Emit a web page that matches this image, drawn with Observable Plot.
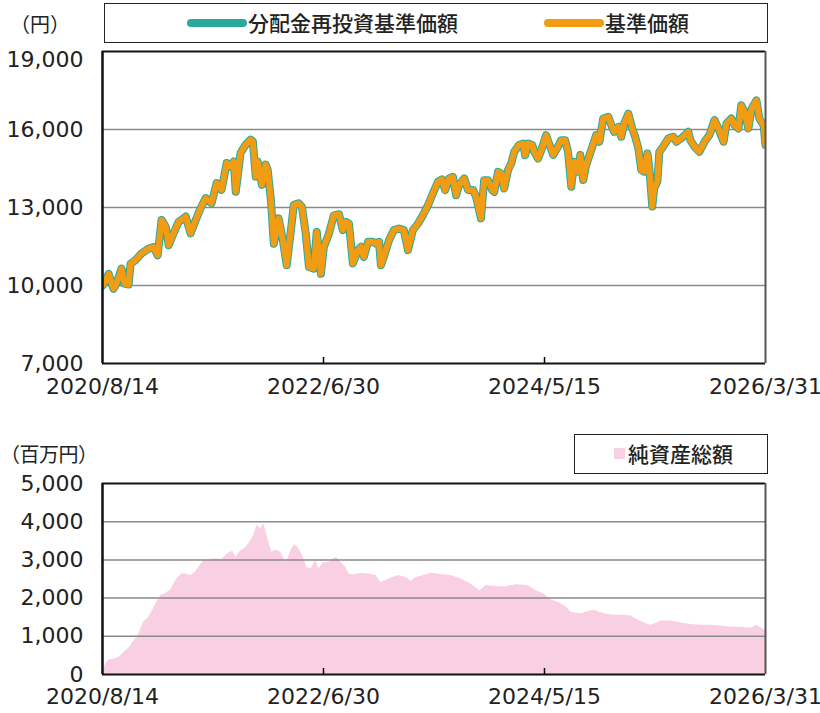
<!DOCTYPE html>
<html><head><meta charset="utf-8">
<script src="https://cdn.jsdelivr.net/npm/d3@7"></script>
<script src="https://cdn.jsdelivr.net/npm/@observablehq/plot@0.6"></script>
<style>
body{margin:0;background:#fff;}
#wrap{position:relative;width:820px;height:713px;overflow:hidden;font-family:"Noto Sans CJK JP",sans-serif;color:#222;}
.abs{position:absolute;white-space:nowrap;}
.box{position:absolute;box-sizing:border-box;border:1.2px solid #222;background:#fff;}
.lg{position:absolute;white-space:nowrap;font-size:21px;line-height:21px;font-weight:500;}
.unit{position:absolute;white-space:nowrap;font-size:20px;line-height:20px;}
#top,#bottom{position:absolute;left:0;}
#top{top:0;} #bottom{top:400px;}
</style></head><body><div id="wrap">
<div id="top"></div>
<div id="bottom"></div>
<div class="unit" style="left:10px;top:14px;">（円）</div>
<div class="box" style="left:104px;top:3px;width:664px;height:40px;"></div>
<div class="abs" style="left:187px;top:19px;width:60px;height:8px;border-radius:4px;background:#2aa89c;"></div>
<div class="lg" style="left:248px;top:12px;">分配金再投資基準価額</div>
<div class="abs" style="left:544px;top:19px;width:60px;height:8px;border-radius:4px;background:#f29c13;"></div>
<div class="lg" style="left:605px;top:12px;">基準価額</div>
<div class="unit" style="left:0px;top:444px;letter-spacing:-0.5px;">（百万円）</div>
<div class="box" style="left:574px;top:434px;width:194px;height:40px;"></div>
<div class="abs" style="left:614px;top:448px;width:11px;height:11px;background:#f9d0e3;"></div>
<div class="lg" style="left:628px;top:443px;">純資産総額</div>
</div>
<script>
// ---- data ----
const navDates = ["2020-08-14","2020-08-23","2020-09-02","2020-09-11","2020-09-17","2020-09-26","2020-10-12","2020-10-21","2020-11-03","2020-11-09","2020-11-24","2020-12-13","2021-01-04","2021-01-19","2021-02-01","2021-02-13","2021-02-26","2021-03-07","2021-03-22","2021-04-07","2021-04-16","2021-04-29","2021-05-14","2021-05-30","2021-06-14","2021-06-30","2021-07-18","2021-08-03","2021-08-18","2021-09-03","2021-09-15","2021-09-25","2021-10-01","2021-10-16","2021-11-01","2021-11-16","2021-11-23","2021-12-02","2021-12-08","2021-12-21","2022-01-02","2022-01-08","2022-01-18","2022-01-27","2022-02-11","2022-02-24","2022-03-08","2022-03-21","2022-03-30","2022-04-14","2022-04-24","2022-05-06","2022-05-16","2022-05-31","2022-06-09","2022-06-22","2022-07-01","2022-07-17","2022-08-01","2022-08-17","2022-08-29","2022-09-07","2022-09-17","2022-09-29","2022-10-15","2022-10-24","2022-11-02","2022-11-15","2022-11-30","2022-12-09","2022-12-19","2022-12-25","2023-01-03","2023-01-19","2023-02-03","2023-02-19","2023-03-06","2023-03-19","2023-04-03","2023-04-19","2023-05-04","2023-05-20","2023-06-04","2023-06-20","2023-07-02","2023-07-12","2023-07-24","2023-08-05","2023-08-15","2023-08-24","2023-09-09","2023-09-21","2023-10-07","2023-10-16","2023-10-31","2023-11-10","2023-11-22","2023-12-05","2023-12-11","2023-12-23","2024-01-01","2024-01-11","2024-01-23","2024-02-02","2024-02-11","2024-02-26","2024-03-10","2024-03-16","2024-03-25","2024-04-07","2024-04-13","2024-04-25","2024-05-05","2024-05-20","2024-05-29","2024-06-11","2024-06-20","2024-07-06","2024-07-18","2024-07-27","2024-08-06","2024-08-15","2024-08-27","2024-09-03","2024-09-12","2024-09-21","2024-10-07","2024-10-22","2024-11-01","2024-11-13","2024-11-29","2024-12-08","2024-12-17","2024-12-30","2025-01-08","2025-01-17","2025-01-30","2025-02-11","2025-02-20","2025-03-02","2025-03-11","2025-03-20","2025-03-30","2025-04-05","2025-04-14","2025-04-20","2025-04-30","2025-05-06","2025-05-18","2025-06-03","2025-06-18","2025-06-28","2025-07-13","2025-08-04","2025-08-10","2025-08-23","2025-09-07","2025-09-23","2025-10-08","2025-10-24","2025-11-05","2025-11-21","2025-11-30","2025-12-15","2025-12-25","2026-01-06","2026-01-15","2026-01-25","2026-02-06","2026-02-16","2026-03-03","2026-03-12","2026-03-25","2026-03-31"];
const navValues = [10000,10150,10450,10100,9870,10070,10650,10070,10040,10840,10970,11230,11420,11480,11160,12520,12260,11550,12000,12450,12520,12650,12000,12520,12970,13360,13160,13940,13680,14710,14580,14770,13610,15100,15420,15610,15550,14190,14770,13870,14650,14450,13290,11610,12580,11740,10780,12130,13100,13160,13030,12000,10710,10650,12060,10450,11480,12000,12700,12740,12130,12450,12380,10850,11360,11490,11100,11680,11680,11610,11680,10780,11100,11740,12130,12190,12130,11360,12130,12380,12700,13090,13540,13990,14080,13670,14120,14180,13470,13860,14120,13670,13670,13410,12580,14050,14050,13670,13600,14370,14310,13730,14440,14690,15140,15400,15460,15010,15460,15400,15140,14880,15200,15780,15460,15020,15210,15590,15590,15140,13800,14760,14380,15020,14060,14630,15210,15780,15530,16420,16490,16170,15910,16100,15720,16230,16610,16040,15720,15270,14440,14380,15080,14510,13040,13740,14000,15140,15340,15660,15720,15530,15660,15910,15590,15340,15140,15530,15780,16360,16040,15530,16230,16420,16170,16040,16930,16680,16040,16800,17120,16420,16170,15400];
// no distributions: the reinvested NAV line coincides with the NAV line in the picture
const reinvestValues = navValues;

const assetDates = ["2020-08-14","2020-08-23","2020-09-02","2020-09-23","2020-10-06","2020-10-18","2020-11-03","2020-11-18","2020-12-04","2020-12-19","2021-01-04","2021-01-13","2021-01-26","2021-02-10","2021-02-26","2021-03-13","2021-03-29","2021-04-16","2021-04-29","2021-05-14","2021-05-30","2021-06-08","2021-06-24","2021-07-09","2021-07-31","2021-08-18","2021-09-03","2021-09-22","2021-10-01","2021-10-16","2021-11-01","2021-11-13","2021-11-26","2021-12-05","2021-12-17","2021-12-27","2022-01-02","2022-01-11","2022-01-21","2022-02-02","2022-02-18","2022-02-27","2022-03-08","2022-03-21","2022-04-02","2022-04-14","2022-04-27","2022-05-09","2022-05-22","2022-06-06","2022-06-16","2022-06-28","2022-07-17","2022-08-01","2022-08-10","2022-08-23","2022-09-07","2022-09-17","2022-10-02","2022-10-27","2022-11-18","2022-12-09","2022-12-25","2023-01-09","2023-01-28","2023-02-19","2023-03-13","2023-03-28","2023-04-13","2023-05-07","2023-06-01","2023-06-29","2023-07-30","2023-08-30","2023-09-30","2023-10-28","2023-11-16","2023-12-23","2024-01-17","2024-02-17","2024-03-25","2024-04-19","2024-05-14","2024-06-05","2024-06-30","2024-07-21","2024-08-06","2024-09-06","2024-09-28","2024-10-16","2024-11-16","2024-12-17","2025-01-17","2025-02-08","2025-03-02","2025-03-20","2025-04-11","2025-05-12","2025-06-12","2025-07-13","2025-08-13","2025-09-13","2025-10-14","2025-11-14","2025-12-15","2026-01-15","2026-02-15","2026-03-03","2026-03-19","2026-03-31"];
const assetValues = [40,260,380,410,460,570,680,860,1050,1360,1490,1620,1840,2060,2120,2210,2460,2630,2630,2590,2680,2810,2980,3000,3030,3000,3140,3230,3070,3230,3320,3460,3640,3900,3820,3950,3770,3460,3200,3260,3200,3030,2940,3250,3400,3290,3110,2810,2760,3000,2760,2910,2940,3030,3070,2940,2810,2630,2610,2650,2630,2590,2410,2460,2530,2590,2540,2440,2540,2590,2650,2620,2590,2500,2370,2190,2330,2300,2300,2350,2330,2190,2110,1950,1880,1770,1620,1590,1650,1680,1590,1550,1550,1530,1420,1350,1290,1400,1400,1350,1310,1290,1290,1270,1240,1240,1220,1290,1220,1150];

const xTicks = ["2020-08-14","2022-06-30","2024-05-15","2026-03-31"];
const xTickLabels = ["2020/8/14","2022/6/30","2024/5/15","2026/3/31"];
const navTicks = [7000,10000,13000,16000,19000];
const assetTicks = [0,1000,2000,3000,4000,5000];

// ---- build ----
const parse = d3.utcParse("%Y-%m-%d");
const fmtDay = d3.utcFormat("%Y-%m-%d");
const xDomain = [parse(xTicks[0]), parse(xTicks[xTicks.length-1])];
const tickDates = xTicks.map(parse);
const xLabel = d => xTickLabels[xTicks.indexOf(fmtDay(d))];
const fmt = d3.format(",");
const navData = navDates.map((d,i) => ({date: parse(d), nav: navValues[i], re: reinvestValues[i]}));
const assetData = assetDates.map((d,i) => ({date: parse(d), v: assetValues[i]}));
const font = {fontFamily: "DejaVu Sans", fontSize: "22px", color: "#222", background: "transparent", overflow: "visible"};

const topChart = Plot.plot({
  width: 820, height: 400,
  marginLeft: 102, marginRight: 55, marginTop: 51, marginBottom: 37,
  x: {type: "utc", domain: xDomain, label: null},
  y: {domain: [navTicks[0], navTicks[navTicks.length-1]], label: null},
  style: font,
  marks: [
    Plot.ruleY(navTicks.slice(1, -1), {stroke: "#8a8a8a", strokeWidth: 1.5}),
    Plot.lineY(navData, {x: "date", y: "re", stroke: "#2aa89c", strokeWidth: 8, strokeLinejoin: "round", strokeLinecap: "round", clip: true}),
    Plot.lineY(navData, {x: "date", y: "nav", stroke: "#f29c13", strokeWidth: 6, strokeLinejoin: "round", strokeLinecap: "round", clip: true}),
    Plot.ruleX(tickDates.slice(1, -1), {y1: navTicks[0], y2: navTicks[0], insetTop: -6, stroke: "#000", strokeWidth: 1.5}),
    Plot.ruleY([navTicks[navTicks.length-1]], {stroke: "#111", strokeWidth: 2}),
    Plot.ruleY([navTicks[0]], {stroke: "#111", strokeWidth: 2}),
    Plot.ruleX([xDomain[1]], {stroke: "#555", strokeWidth: 2}),
    Plot.ruleX([xDomain[0]], {stroke: "#111", strokeWidth: 2.5}),
    Plot.axisY(navTicks.slice(0, -1), {tickSize: 0, tickPadding: 19, tickFormat: fmt, label: null}),
    Plot.axisY(navTicks.slice(-1), {tickSize: 0, tickPadding: 19, tickFormat: fmt, dy: 8, label: null}),
    Plot.axisX(tickDates, {tickSize: 0, tickPadding: 15, tickFormat: xLabel, label: null})
  ]
});
document.getElementById("top").append(topChart);

const bottomChart = Plot.plot({
  width: 820, height: 313,
  marginLeft: 102, marginRight: 55, marginTop: 83, marginBottom: 39,
  x: {type: "utc", domain: xDomain, label: null},
  y: {domain: [assetTicks[0], assetTicks[assetTicks.length-1]], label: null},
  style: font,
  marks: [
    Plot.areaY(assetData, {x: "date", y: "v", fill: "#f9d0e3", clip: true}),
    Plot.ruleY(assetTicks.slice(1, -1), {stroke: "#8a8a8a", strokeWidth: 1.5}),
    Plot.ruleX(tickDates.slice(1, -1), {y1: 0, y2: 0, insetTop: -6, stroke: "#000", strokeWidth: 1.5}),
    Plot.ruleY([assetTicks[assetTicks.length-1]], {stroke: "#111", strokeWidth: 2}),
    Plot.ruleY([assetTicks[0]], {stroke: "#111", strokeWidth: 2}),
    Plot.ruleX([xDomain[1]], {stroke: "#555", strokeWidth: 2}),
    Plot.ruleX([xDomain[0]], {stroke: "#111", strokeWidth: 2.5}),
    Plot.axisY(assetTicks, {tickSize: 0, tickPadding: 19, tickFormat: fmt, label: null}),
    Plot.axisX(tickDates, {tickSize: 0, tickPadding: 14, tickFormat: xLabel, label: null})
  ]
});
document.getElementById("bottom").append(bottomChart);
</script>
</body></html>
